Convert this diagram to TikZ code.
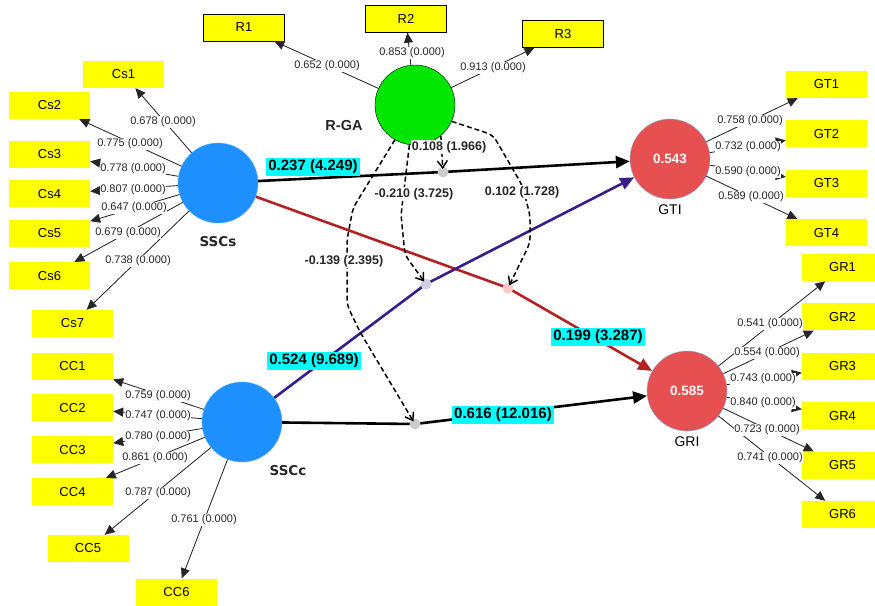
\documentclass[tikz,border=0pt]{standalone}
\usepackage{fontspec}
\setmainfont{Liberation Sans}
\newfontfamily\dvsans{DejaVu Sans}
\usepackage{tikz}
\usetikzlibrary{arrows.meta, positioning}

\definecolor{indyellow}{RGB}{255,255,0}
\definecolor{lvblue}{RGB}{30,144,255}
\definecolor{lvgreen}{RGB}{0,230,0}
\definecolor{lvred}{RGB}{230,80,80}
\definecolor{lvrim}{RGB}{130,175,230}
\definecolor{pathred}{RGB}{178,34,34}
\definecolor{pathblue}{RGB}{55,30,140}
\definecolor{coefcyan}{RGB}{0,255,255}

\begin{document}
\begin{tikzpicture}[x=1pt, y=-1pt,
  ind/.style={fill=indyellow, minimum width=81pt, minimum height=27pt, inner sep=0pt, font=\fontsize{13}{15}\selectfont},
  lv/.style={circle, minimum size=80pt, inner sep=0pt, fill=lvblue, draw=lvblue!70!white, thin},
  lvname/.style={font=\dvsans\bfseries\fontsize{13.5}{15}\selectfont, text=black!85},
  load/.style={-{Triangle[length=10pt, width=9pt]}, line width=0.85pt, black!85},
  loadlbl/.style={fill=white, inner sep=0.6pt, text=black!85, font=\fontsize{11}{12}\selectfont},
  struct/.style={-{Triangle[length=14pt, width=12pt]}, line width=2.6pt},
  coef/.style={fill=coefcyan, inner xsep=2.5pt, inner ysep=2pt, font=\bfseries\fontsize{15}{17}\selectfont},
  mod/.style={-{Straight Barb[length=7pt, width=10pt]}, line width=1.5pt, dash pattern=on 5pt off 3pt, rounded corners=6pt, shorten >=3pt},
  modlbl/.style={fill=white, inner sep=0.8pt, text=black!85, font=\bfseries\fontsize{12.5}{14}\selectfont}]

\useasboundingbox (0,0) rectangle (875,605);

\node[lv, label={[lvname, label distance=10pt]below:SSCs}] (sscs) at (218,183) {};
\node[lv] (sscc) at (242,422) {};
\node[lvname] (ssccname) at (288,471) {SSCc};
\node[lv, fill=lvgreen, draw=black] (rga) at (415,105) {};
\node[lvname, font=\bfseries\fontsize{14.5}{16}\selectfont] (rganame) at (344,126) {R-GA};
\node[lv, fill=lvred, draw=lvrim, text=white, font=\bfseries\fontsize{13.5}{15}\selectfont, label={[font=\fontsize{14}{16}\selectfont, label distance=2pt]below:GTI}] (gti) at (670,159) {0.543};
\node[lv, fill=lvred, draw=lvrim, text=white, font=\bfseries\fontsize{13.5}{15}\selectfont, label={[font=\fontsize{14}{16}\selectfont, label distance=2pt]below:GRI}] (gri) at (687,391) {0.585};

\node[ind] (cs1) at (123.5,74.5) {Cs1};
\node[ind] (cs2) at (49.5,105.5) {Cs2};
\node[ind] (cs3) at (49.5,154.5) {Cs3};
\node[ind, below=12pt of cs3] (cs4) {Cs4};
\node[ind, below=12pt of cs4] (cs5) {Cs5};
\node[ind, below=15pt of cs5] (cs6) {Cs6};
\node[ind] (cs7) at (72.5,323.5) {Cs7};

\node[ind] (cc1) at (72.5,366) {CC1};
\node[ind, below=14.5pt of cc1] (cc2) {CC2};
\node[ind, below=14.5pt of cc2] (cc3) {CC3};
\node[ind, below=14.5pt of cc3] (cc4) {CC4};
\node[ind] (cc5) at (88,548.5) {CC5};
\node[ind] (cc6) at (176.5,592) {CC6};

\node[ind, draw=black] (r1) at (244,27.5) {R1};
\node[ind, draw=black] (r2) at (406,19) {R2};
\node[ind, draw=black] (r3) at (563,34) {R3};

\node[ind] (gt1) at (826.5,84.5) {GT1};
\node[ind, below=22pt of gt1] (gt2) {GT2};
\node[ind, below=22pt of gt2] (gt3) {GT3};
\node[ind, below=22pt of gt3] (gt4) {GT4};

\node[ind] (gr1) at (842.5,267.5) {GR1};
\node[ind, below=22pt of gr1] (gr2) {GR2};
\node[ind, below=22pt of gr2] (gr3) {GR3};
\node[ind, below=22pt of gr3] (gr4) {GR4};
\node[ind, below=22pt of gr4] (gr5) {GR5};
\node[ind, below=22pt of gr5] (gr6) {GR6};

\draw[load] (sscs) -- (cs1);
\draw[load] (sscs) -- (cs2);
\draw[load] (sscs) -- (cs3);
\draw[load] (sscs) -- (cs4);
\draw[load] (sscs) -- (cs5);
\draw[load] (sscs) -- (cs6);
\draw[load] (sscs) -- (cs7);
\draw[load] (sscc) -- (cc1);
\draw[load] (sscc) -- (cc2);
\draw[load] (sscc) -- (cc3);
\draw[load] (sscc) -- (cc4);
\draw[load] (sscc) -- (cc5);
\draw[load] (sscc) -- (cc6);
\draw[load] (rga) -- (r1);
\draw[load] (rga) -- (r2);
\draw[load] (rga) -- (r3);
\draw[load] (gti) -- (gt1);
\draw[load] (gti) -- (gt2);
\draw[load] (gti) -- (gt3);
\draw[load] (gti) -- (gt4);
\draw[load] (gri) -- (gr1);
\draw[load] (gri) -- (gr2);
\draw[load] (gri) -- (gr3);
\draw[load] (gri) -- (gr4);
\draw[load] (gri) -- (gr5);
\draw[load] (gri) -- (gr6);

\node[loadlbl] (lcs1) at (163,122) {0.678 (0.000)};
\node[loadlbl] (lcs2) at (130,144) {0.775 (0.000)};
\node[loadlbl] (lcs3) at (133,169) {0.778 (0.000)};
\node[loadlbl] (lcs4) at (133,190) {0.807 (0.000)};
\node[loadlbl] (lcs5) at (134,208) {0.647 (0.000)};
\node[loadlbl] (lcs6) at (128,233) {0.679 (0.000)};
\node[loadlbl] (lcs7) at (138,261) {0.738 (0.000)};
\node[loadlbl] (lcc1) at (158,396) {0.759 (0.000)};
\node[loadlbl] (lcc2) at (158,416) {0.747 (0.000)};
\node[loadlbl] (lcc3) at (158,437) {0.780 (0.000)};
\node[loadlbl] (lcc4) at (155,458) {0.861 (0.000)};
\node[loadlbl] (lcc5) at (158,493) {0.787 (0.000)};
\node[loadlbl] (lcc6) at (204,520) {0.761 (0.000)};
\node[loadlbl] (lr1) at (327,66) {0.652 (0.000)};
\node[loadlbl] (lr2) at (412,53) {0.853 (0.000)};
\node[loadlbl] (lr3) at (493,68) {0.913 (0.000)};
\node[loadlbl] (lgt1) at (750,121) {0.758 (0.000)};
\node[loadlbl] (lgt2) at (748,147) {0.732 (0.000)};
\node[loadlbl] (lgt3) at (748,172) {0.590 (0.000)};
\node[loadlbl] (lgt4) at (751,197) {0.589 (0.000)};
\node[loadlbl] (lgr1) at (770,324) {0.541 (0.000)};
\node[loadlbl] (lgr2) at (767,353) {0.554 (0.000)};
\node[loadlbl] (lgr3) at (763,379) {0.743 (0.000)};
\node[loadlbl] (lgr4) at (763,403) {0.840 (0.000)};
\node[loadlbl] (lgr5) at (767,430) {0.723 (0.000)};
\node[loadlbl] (lgr6) at (770,458) {0.741 (0.000)};

\coordinate (m1) at (443,172);
\coordinate (m2) at (508,288);
\coordinate (m3) at (426,284);
\coordinate (m4) at (415,424);

\draw[struct] (sscs) -- (m1) -- (gti);
\draw[struct, pathred] (sscs) -- (m2) -- (gri);
\draw[struct, pathblue] (sscc) -- (m3) -- (gti);
\draw[struct] (sscc) -- (m4) -- (gri);

\fill[gray!40] (m1) circle (5.5pt);
\fill[red!22] (m2) circle (5.5pt);
\fill[pathblue!22] (m3) circle (5.5pt);
\fill[gray!40] (m4) circle (5.5pt);

\draw[mod] (rga.310) -- (m1);
\draw[mod] (rga.262) -- (401,215) -- (405,255) -- (m3);
\draw[mod] (rga.336) -- (493,135) -- (522,185) -- (530,215) -- (530,243) -- (m2);
\draw[mod] (rga.240) -- (353,208) -- (347,240) -- (347,305) -- (360,332) -- (m4);

\node[modlbl] (lmod1) at (449,147) {0.108 (1.966)};
\node[modlbl] (lmod2) at (414,194) {-0.210 (3.725)};
\node[modlbl] (lmod3) at (522,192) {0.102 (1.728)};
\node[modlbl] (lmod4) at (344,261) {-0.139 (2.395)};

\node[coef] (c1) at (313,167) {0.237 (4.249)};
\node[coef] (c2) at (598,337) {0.199 (3.287)};
\node[coef] (c3) at (314,361) {0.524 (9.689)};
\node[coef] (c4) at (503,415) {0.616 (12.016)};

\end{tikzpicture}
\end{document}
